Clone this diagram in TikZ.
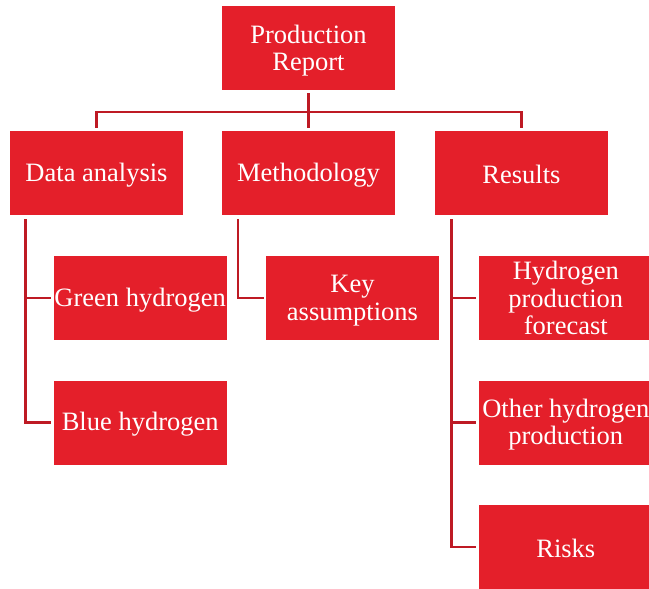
\documentclass[tikz,border=0pt]{standalone}
\usepackage{fontspec}
\setmainfont{Liberation Serif}
% invisible strut that makes the first text line taller, setting the text lower
\newcommand{\padtop}[1]{\rule{0pt}{#1}}
\begin{document}
\definecolor{boxred}{HTML}{E41F2A}
\definecolor{linkred}{HTML}{BE1A24}
\begin{tikzpicture}[x=1pt,y=-1pt,
  card/.style={fill=boxred, text=white, minimum width=173pt, minimum height=84pt,
    inner sep=0pt, align=center, font=\fontsize{26.5}{27.5}\selectfont},
  conn/.style={draw=linkred, line width=2.5pt}]
\useasboundingbox (0,0) rectangle (649,589);

% top level
\node[card] (root) at (308.5,48) {\padtop{23.5pt}Production\\Report};

% second level
\node[card] (da)   at (96.5,173)  {\padtop{22pt}Data analysis};
\node[card] (meth) at (308.5,173) {\padtop{22pt}Methodology};
\node[card] (res)  at (521.5,173) {\padtop{22pt}Results};

% third level
\node[card] (gh)  at (140.2,298)   {\padtop{22pt}Green hydrogen};
\node[card] (bh)  at (140.2,422.7) {\padtop{22pt}Blue hydrogen};
\node[card] (ka)  at (352.5,298)   {\padtop{23pt}Key\\assumptions};
\node[card] (hpf) at (565.8,298)   {Hydrogen\\production\\forecast};
\node[card] (ohp) at (565.8,422.7) {\padtop{22.5pt}Other hydrogen\\production};
\node[card] (rk)  at (565.8,547)   {\padtop{22pt}Risks};

% bus below the root
\coordinate (j) at (root.south |- 0,112);
\draw[conn, shorten <=3pt] (root.south) -- (j);
\draw[conn, shorten >=3pt] (j) -| (da.north);
\draw[conn, shorten >=3pt] (j) -- (meth.north);
\draw[conn, shorten >=3pt] (j) -| (res.north);

% side rails to the children
\draw[conn, shorten <=4pt, shorten >=3pt] ([xshift=15.7pt]da.south west) |- (gh.west);
\draw[conn, shorten <=4pt, shorten >=3pt] ([xshift=15.7pt]da.south west) |- (bh.west);
\draw[conn, shorten <=4pt, shorten >=2pt] ([xshift=16.3pt]meth.south west) |- (ka.west);
\draw[conn, shorten <=4pt, shorten >=3pt] ([xshift=16.7pt]res.south west) |- (hpf.west);
\draw[conn, shorten <=4pt, shorten >=3pt] ([xshift=16.7pt]res.south west) |- (ohp.west);
\draw[conn, shorten <=4pt, shorten >=3pt] ([xshift=16.7pt]res.south west) |- (rk.west);
\end{tikzpicture}
\end{document}
